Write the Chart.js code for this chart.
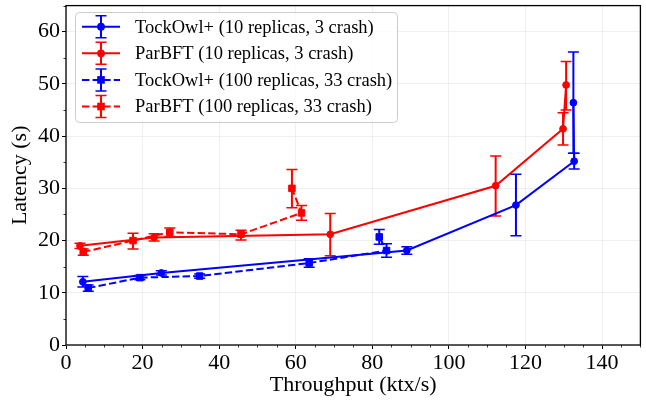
<!DOCTYPE html>
<html>
<head>
<meta charset="utf-8">
<script src="https://cdn.jsdelivr.net/npm/chart.js@4.4.1/dist/chart.umd.min.js"></script>
<style>
  html, body { margin: 0; padding: 0; background: #fff; }
  #wrap { width: 646px; height: 402px; }
</style>
</head>
<body>
<div id="wrap"><canvas id="chart" width="646" height="402"></canvas></div>
<script>
// values
const tockSmallX = [4.4, 24.9, 89.0, 117.5, 132.7, 132.5]
const tockSmallY = [12.1, 13.8, 18.1, 26.8, 35.2, 46.4]
const tockSmallLo = [11.1, 13.4, 17.4, 20.9, 33.7, 36.7]
const tockSmallHi = [13.1, 14.2, 18.8, 32.7, 36.7, 56.1]

const parSmallX = [3.65, 23.0, 69.0, 112.2, 129.8, 130.6]
const parSmallY = [19.0, 20.6, 21.2, 30.5, 41.4, 49.8]
const parSmallLo = [18.5, 19.9, 17.1, 24.7, 38.3, 45.0]
const parSmallHi = [19.5, 21.3, 25.2, 36.2, 44.5, 54.3]

const tockBigX = [5.8, 19.3, 34.9, 63.5, 83.7, 81.8]
const tockBigY = [10.9, 12.9, 13.2, 15.7, 18.1, 20.7]
const tockBigLo = [10.3, 12.5, 12.8, 14.9, 16.8, 19.3]
const tockBigHi = [11.5, 13.3, 13.6, 16.5, 19.4, 22.1]

const parBigX = [4.5, 17.5, 27.1, 45.7, 61.5, 59.0]
const parBigY = [17.8, 20.0, 21.6, 21.2, 25.3, 30.0]
const parBigLo = [17.2, 18.4, 20.8, 20.1, 23.9, 26.3]
const parBigHi = [18.4, 21.4, 22.4, 22.0, 26.7, 33.6]

const labels = [
  'TockOwl+ (10 replicas, 3 crash)',
  'ParBFT (10 replicas, 3 crash)',
  'TockOwl+ (100 replicas, 33 crash)',
  'ParBFT (100 replicas, 33 crash)',
]

const BLUE = '#0000ff'
const RED = '#ff0000'
const DASH = [7.4, 3.2]
const FONT = "'Liberation Serif', 'DejaVu Serif', serif"

function pts(xs, ys) {
  return xs.map((x, i) => ({ x, y: ys[i] }))
}

function series(label, xs, ys, lo, hi, color, dashed) {
  return {
    label,
    data: pts(xs, ys),
    errLo: lo,
    errHi: hi,
    borderColor: color,
    backgroundColor: color,
    borderWidth: 2,
    borderDash: dashed ? DASH : [],
    pointStyle: dashed ? 'rect' : 'circle',
    pointRadius: dashed ? 4.6 : 3.4,
    pointBorderWidth: 1,
    pointBorderColor: color,
    pointBackgroundColor: color,
    tension: 0,
  }
}

const errorBars = {
  id: 'errorBars',
  beforeDatasetDraw(chart, args) {
    const ds = chart.data.datasets[args.index]
    const xs = chart.scales.x
    const ys = chart.scales.y
    const ctx = chart.ctx
    ctx.save()
    ctx.strokeStyle = ds.borderColor
    ds.data.forEach((p, i) => {
      const px = xs.getPixelForValue(p.x)
      const top = ys.getPixelForValue(ds.errHi[i])
      const bot = ys.getPixelForValue(ds.errLo[i])
      ctx.lineWidth = 2
      ctx.beginPath()
      ctx.moveTo(px, top)
      ctx.lineTo(px, bot)
      ctx.stroke()
      ctx.lineWidth = 1.5
      ctx.beginPath()
      ctx.moveTo(px - 5.5, top)
      ctx.lineTo(px + 5.5, top)
      ctx.moveTo(px - 5.5, bot)
      ctx.lineTo(px + 5.5, bot)
      ctx.stroke()
    })
    ctx.restore()
  },
}

const frame = {
  id: 'frame',
  afterDraw(chart) {
    const { ctx, chartArea: a } = chart
    const xs = chart.scales.x
    const ys = chart.scales.y
    ctx.save()
    // minor ticks
    ctx.strokeStyle = '#000'
    ctx.lineWidth = 0.8
    ctx.beginPath()
    for (let v = 0; v <= 150; v += 5) {
      if (v % 20 === 0) continue
      const px = Math.round(xs.getPixelForValue(v)) + 0.5
      ctx.moveTo(px, a.bottom)
      ctx.lineTo(px, a.bottom + 2.5)
    }
    for (let v = 5; v <= 65; v += 10) {
      const py = Math.round(ys.getPixelForValue(v)) + 0.5
      ctx.moveTo(a.left, py)
      ctx.lineTo(a.left - 2.5, py)
    }
    ctx.stroke()
    // axes frame
    ctx.lineWidth = 1.3
    ctx.strokeRect(a.left, a.top, a.right - a.left, a.bottom - a.top)
    ctx.restore()
  },
}

const legendBox = {
  id: 'legendBox',
  afterDraw(chart) {
    const ctx = chart.ctx
    const bx = 75.5, by = 12.5, bw = 322, bh = 110
    ctx.save()
    ctx.beginPath()
    ctx.roundRect(bx, by, bw, bh, 4)
    ctx.fillStyle = 'rgba(255,255,255,0.8)'
    ctx.fill()
    ctx.strokeStyle = '#cccccc'
    ctx.lineWidth = 1
    ctx.stroke()
    chart.data.datasets.forEach((ds, i) => {
      const cy = 26.7 + i * 26.6
      const cx = 101
      ctx.strokeStyle = ds.borderColor
      ctx.fillStyle = ds.borderColor
      ctx.lineWidth = 2
      ctx.setLineDash(ds.borderDash)
      ctx.beginPath()
      ctx.moveTo(82, cy)
      ctx.lineTo(120, cy)
      ctx.stroke()
      ctx.setLineDash([])
      ctx.beginPath()
      ctx.moveTo(cx, cy - 11)
      ctx.lineTo(cx, cy + 11)
      ctx.stroke()
      ctx.lineWidth = 1.5
      ctx.beginPath()
      ctx.moveTo(cx - 5.5, cy - 11)
      ctx.lineTo(cx + 5.5, cy - 11)
      ctx.moveTo(cx - 5.5, cy + 11)
      ctx.lineTo(cx + 5.5, cy + 11)
      ctx.stroke()
      ctx.beginPath()
      if (ds.pointStyle === 'rect') {
        ctx.rect(cx - 3.8, cy - 3.8, 7.6, 7.6)
      } else {
        ctx.arc(cx, cy, 3.9, 0, Math.PI * 2)
      }
      ctx.fill()
      ctx.fillStyle = '#000'
      ctx.font = `18.5px ${FONT}`
      ctx.textBaseline = 'middle'
      ctx.textAlign = 'left'
      ctx.fillText(ds.label, 135, cy + 1)
    })
    ctx.restore()
  },
}

const gridColor = (step) => (c) => (c.tick && c.tick.value % step === 0 ? '#ebebeb' : 'rgba(0,0,0,0)')
const tickColor = (step) => (c) => (c.tick && c.tick.value % step === 0 ? '#000' : 'rgba(0,0,0,0)')

new Chart(document.getElementById('chart'), {
  type: 'line',
  data: {
    datasets: [
      series(labels[0], tockSmallX, tockSmallY, tockSmallLo, tockSmallHi, BLUE, false),
      series(labels[1], parSmallX, parSmallY, parSmallLo, parSmallHi, RED, false),
      series(labels[2], tockBigX, tockBigY, tockBigLo, tockBigHi, BLUE, true),
      series(labels[3], parBigX, parBigY, parBigLo, parBigHi, RED, true),
    ],
  },
  options: {
    responsive: false,
    animation: false,
    events: [],
    layout: { padding: { top: 3, right: 4, left: 0, bottom: 0 } },
    plugins: { legend: { display: false }, tooltip: { enabled: false } },
    scales: {
      x: {
        type: 'linear',
        min: 0,
        max: 150,
        afterFit: (s) => { s.height = 57; s.paddingLeft = 0; s.paddingRight = 0 },
        border: { display: false },
        grid: { color: gridColor(20), lineWidth: 0.8, tickColor: tickColor(20), tickLength: 4, tickWidth: 1 },
        ticks: {
          stepSize: 5,
          autoSkip: false,
          maxRotation: 0,
          padding: 1,
          color: '#000',
          font: { family: FONT, size: 22 },
          callback: (v) => (v % 20 === 0 ? String(v) : ''),
        },
        title: {
          display: true,
          text: 'Throughput (ktx/s)',
          color: '#000',
          font: { family: FONT, size: 22 },
          padding: { top: 0, bottom: 4 },
        },
      },
      y: {
        type: 'linear',
        min: 0,
        max: 65,
        afterFit: (s) => { s.width = 66; s.paddingTop = 0; s.paddingBottom = 0 },
        border: { display: false },
        grid: { color: gridColor(10), lineWidth: 0.8, tickColor: tickColor(10), tickLength: 4, tickWidth: 1 },
        ticks: {
          stepSize: 5,
          autoSkip: false,
          padding: 2,
          color: '#000',
          font: { family: FONT, size: 22 },
          callback: (v) => (v % 10 === 0 ? String(v) : ''),
        },
        title: {
          display: true,
          text: 'Latency (s)',
          color: '#000',
          font: { family: FONT, size: 22 },
          padding: { top: 7, bottom: 0 },
        },
      },
    },
  },
  plugins: [errorBars, frame, legendBox],
})
</script>
</body>
</html>
